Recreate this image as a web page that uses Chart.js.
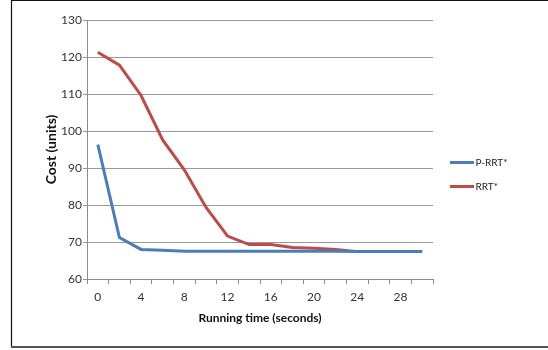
<!DOCTYPE html>
<html>
<head>
<meta charset="utf-8">
<script src="https://cdn.jsdelivr.net/npm/chart.js@4/dist/chart.umd.min.js"></script>
<style>
  html, body { margin: 0; padding: 0; background: #fff; }
  #wrap { position: relative; width: 548px; height: 350px; }
  canvas { display: block; }
</style>
</head>
<body>
<div id="wrap"><canvas id="c" width="548" height="350"></canvas></div>
<script>
// Running time in seconds (x categories)
const times = ['0','2','4','6','8','10','12','14','16','18','20','22','24','26','28','30'];
// Path cost per planner
const pRrtStar = [96.3, 71.2, 68.0, 67.8, 67.5, 67.5, 67.5, 67.5, 67.5, 67.5, 67.5, 67.5, 67.4, 67.4, 67.4, 67.4];
const rrtStar  = [121.3, 117.8, 109.6, 97.6, 89.5, 79.4, 71.6, 69.3, 69.3, 68.5, 68.3, 68.0, 67.4, 67.4, 67.4, 67.4];
const seriesNames = ['P-RRT*', 'RRT*'];
const yTicks = [60, 70, 80, 90, 100, 110, 120, 130];

const FONT = 'Lato, "Open Sans", sans-serif';

// Frame around the figure and a right-hand legend
const framePlugin = {
  id: 'frame',
  beforeDraw(chart) {
    const ctx = chart.ctx;
    ctx.save();
    ctx.fillStyle = '#fff';
    ctx.fillRect(0, 0, chart.width, chart.height);
    ctx.restore();
  },
  afterDraw(chart) {
    const ctx = chart.ctx;
    ctx.save();
    ctx.strokeStyle = '#111';
    ctx.lineWidth = 1.2;
    ctx.beginPath();
    ctx.moveTo(11.5, 347);
    ctx.lineTo(11.5, 0.5);
    ctx.lineTo(548, 0.5);
    ctx.stroke();
    ctx.strokeStyle = '#555';
    ctx.lineWidth = 2;
    ctx.beginPath();
    ctx.moveTo(11, 347);
    ctx.lineTo(548, 347);
    ctx.stroke();

    // legend
    const x0 = 450, rowY = [162.5, 186.5];
    ctx.font = '10px ' + FONT;
    ctx.textBaseline = 'middle';
    chart.data.datasets.forEach((ds, i) => {
      ctx.strokeStyle = ds.borderColor;
      ctx.lineWidth = 3;
      ctx.beginPath();
      ctx.moveTo(x0, rowY[i]);
      ctx.lineTo(x0 + 24, rowY[i]);
      ctx.stroke();
      ctx.fillStyle = '#222';
      ctx.fillText(ds.label, x0 + 25.5, rowY[i]);
    });
    ctx.restore();
  }
};

new Chart(document.getElementById('c'), {
  type: 'line',
  data: {
    labels: times,
    datasets: [
      { label: seriesNames[0], data: pRrtStar, borderColor: '#4a7ebb', backgroundColor: '#4a7ebb',
        borderWidth: 3, pointRadius: 0, tension: 0 },
      { label: seriesNames[1], data: rrtStar, borderColor: '#be4b48', backgroundColor: '#be4b48',
        borderWidth: 3, pointRadius: 0, tension: 0 }
    ]
  },
  options: {
    responsive: false,
    animation: false,
    devicePixelRatio: 1,
    layout: { padding: { left: 41, right: 115, top: 20, bottom: 25 } },
    plugins: { legend: { display: false }, tooltip: { enabled: false } },
    scales: {
      x: {
        offset: true,
        afterFit: (s) => { s.height = 46; },
        grid: { offset: true, drawOnChartArea: false, drawTicks: true, tickLength: 5, color: '#8c8c8c' },
        border: { color: '#8c8c8c', width: 1 },
        ticks: {
          autoSkip: false, maxRotation: 0, padding: 6, color: '#333',
          font: { family: FONT, size: 12 },
          callback: (v, i) => (i % 2 === 0 ? times[i] : '')
        },
        title: { display: true, text: 'Running time (seconds)', color: '#111',
                 font: { family: FONT, size: 12, weight: 'bold' }, padding: { top: 0, bottom: 0 } }
      },
      y: {
        min: 60, max: 130,
        afterFit: (s) => { s.width = 46; },
        afterBuildTicks: (s) => { s.ticks = yTicks.map(v => ({ value: v })); },
        grid: { color: '#9a9a9a', tickLength: 4, drawTicks: true },
        border: { color: '#8c8c8c', width: 1 },
        ticks: { padding: 1, color: '#333', font: { family: FONT, size: 12 } },
        title: { display: true, text: 'Cost (units)', color: '#111',
                 font: { family: FONT, size: 14, weight: 'bold' }, padding: { top: 2, bottom: 0 } }
      }
    }
  },
  plugins: [framePlugin]
});
</script>
</body>
</html>
